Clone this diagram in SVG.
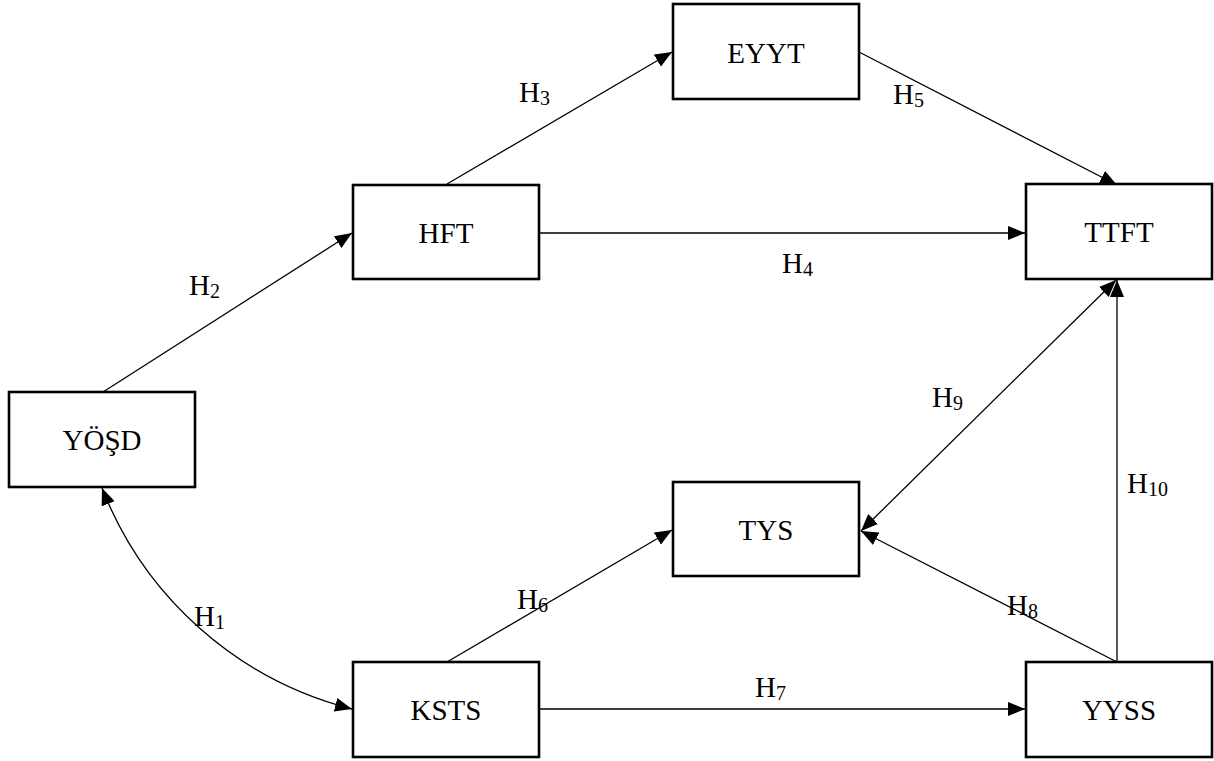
<svg xmlns="http://www.w3.org/2000/svg" width="1214" height="761" viewBox="0 0 1214 761">
  <style>
    .node rect { fill: #ffffff; stroke: #000000; stroke-width: 2.6; }
    .node text { font-family: "Liberation Serif", "Times New Roman", serif; font-size: 29px; fill: #000000; text-anchor: middle; }
    .edge { fill: none; stroke: #000000; stroke-width: 1.3; }
    .lbl { font-family: "Liberation Serif", "Times New Roman", serif; font-size: 29px; fill: #000000; }
    .sub { font-size: 20px; }
  </style>
  <defs>
    <marker id="arrow" markerUnits="userSpaceOnUse" markerWidth="18" markerHeight="14" refX="17" refY="7" orient="auto-start-reverse">
      <path d="M0,0 L17,7 L0,14 z" fill="#000000"/>
    </marker>
  </defs>

  <rect width="1214" height="761" fill="#ffffff"/>

  <!-- connectors -->
  <g id="connectors">
    <line class="edge" x1="103" y1="392" x2="352" y2="233" marker-end="url(#arrow)"/>
    <line class="edge" x1="447" y1="184" x2="672" y2="52" marker-end="url(#arrow)"/>
    <line class="edge" x1="859" y1="52" x2="1117" y2="185" marker-end="url(#arrow)"/>
    <line class="edge" x1="539" y1="233" x2="1025" y2="233" marker-end="url(#arrow)"/>
    <line class="edge" x1="861" y1="531" x2="1116" y2="280" marker-start="url(#arrow)" marker-end="url(#arrow)"/>
    <line class="edge" x1="1117" y1="662" x2="1117" y2="280" marker-end="url(#arrow)"/>
    <line class="edge" x1="1117" y1="662" x2="861" y2="531" marker-end="url(#arrow)"/>
    <line class="edge" x1="447" y1="662" x2="672" y2="530" marker-end="url(#arrow)"/>
    <line class="edge" x1="539" y1="709" x2="1025" y2="709" marker-end="url(#arrow)"/>
    <path class="edge" d="M102,488 A365,365 0 0,0 352,709" marker-start="url(#arrow)" marker-end="url(#arrow)"/>
  </g>

  <!-- hypothesis labels -->
  <g id="labels">
    <text class="lbl" x="194" y="626">H<tspan class="sub" dy="3">1</tspan></text>
    <text class="lbl" x="189" y="295">H<tspan class="sub" dy="3">2</tspan></text>
    <text class="lbl" x="519" y="102">H<tspan class="sub" dy="3">3</tspan></text>
    <text class="lbl" x="782" y="273">H<tspan class="sub" dy="3">4</tspan></text>
    <text class="lbl" x="893" y="104">H<tspan class="sub" dy="3">5</tspan></text>
    <text class="lbl" x="517" y="609">H<tspan class="sub" dy="3">6</tspan></text>
    <text class="lbl" x="755" y="697">H<tspan class="sub" dy="3">7</tspan></text>
    <text class="lbl" x="1007" y="615">H<tspan class="sub" dy="3">8</tspan></text>
    <text class="lbl" x="932" y="407">H<tspan class="sub" dy="3">9</tspan></text>
    <text class="lbl" x="1127" y="493">H<tspan class="sub" dy="3">10</tspan></text>
  </g>

  <!-- nodes -->
  <g id="node-eyyt" class="node">
    <rect x="673" y="4" width="186" height="95"/>
    <text x="766" y="63">EYYT</text>
  </g>
  <g id="node-hft" class="node">
    <rect x="353" y="185" width="186" height="94"/>
    <text x="446" y="243">HFT</text>
  </g>
  <g id="node-ttft" class="node">
    <rect x="1026" y="184" width="186" height="95"/>
    <text x="1119" y="242">TTFT</text>
  </g>
  <g id="node-yosd" class="node">
    <rect x="9" y="392" width="186" height="95"/>
    <text x="102" y="450">YÖŞD</text>
  </g>
  <g id="node-tys" class="node">
    <rect x="673" y="482" width="186" height="94"/>
    <text x="766" y="540">TYS</text>
  </g>
  <g id="node-ksts" class="node">
    <rect x="353" y="662" width="186" height="95"/>
    <text x="446" y="720">KSTS</text>
  </g>
  <g id="node-yyss" class="node">
    <rect x="1026" y="662" width="186" height="95"/>
    <text x="1119" y="720">YYSS</text>
  </g>
</svg>
